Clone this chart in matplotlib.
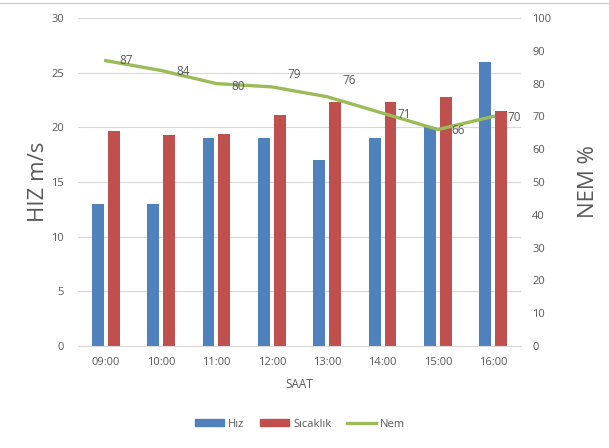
import matplotlib
matplotlib.use("Agg")
import matplotlib.pyplot as plt
import numpy as np
from matplotlib.lines import Line2D

hours = ["09:00", "10:00", "11:00", "12:00", "13:00", "14:00", "15:00", "16:00"]
hiz = [13, 13, 19, 19, 17, 19, 20, 26]
sicaklik = [19.7, 19.3, 19.4, 21.1, 22.3, 22.3, 22.8, 21.5]
nem = [87, 84, 80, 79, 76, 71, 66, 70]

blue = "#4f81bd"
red = "#c0504d"
green = "#9bbb59"
txt = "#595959"
grid = "#d9d9d9"

plt.rcParams['font.family'] = ['Open Sans', 'DejaVu Sans']

fig = plt.figure(figsize=(6.09, 4.48), dpi=100)
ax = fig.add_axes([78/609, 1-346/448, (521-78)/609, (346-18)/448])
ax2 = ax.twinx()

x = np.arange(len(hours))
w = 12/56
off = 8/56
ax.bar(x - off, hiz, width=w, color=blue, zorder=2, label="Hız")
ax.bar(x + off, sicaklik, width=w, color=red, zorder=2, label="Sıcaklık")
ax2.plot(x, nem, color=green, lw=2.4, zorder=3, label="Nem")

label_offsets = [(10, 0), (11, -1), (11, -2), (11, 9), (11, 12), (11, -1), (10, -1), (10, -1)]
for xi, v, (dx, dy) in zip(x, nem, label_offsets):
    ax2.annotate(str(v), (xi, v), xytext=(dx, dy), textcoords="offset points",
                 ha="left", va="center", fontsize=8.5, color=txt)

ax.set_xlim(-0.5, len(hours) - 0.5)
ax.set_ylim(0, 30)
ax.set_yticks(np.arange(0, 31, 5))
ax2.set_ylim(0, 100)
ax2.set_yticks(np.arange(0, 101, 10))
ax.set_xticks(x)
ax.set_xticklabels(hours)

ax.yaxis.grid(True, color=grid, lw=0.8, zorder=0)
ax.set_axisbelow(True)
for a in (ax, ax2):
    for s in a.spines.values():
        s.set_visible(False)
    a.tick_params(length=0, labelsize=8, labelcolor=txt)
ax.spines['bottom'].set_visible(True)
ax.spines['bottom'].set_color(grid)
ax.tick_params(axis='y', pad=10)
ax.tick_params(axis='x', pad=8)
ax2.tick_params(axis='y', pad=8)

ax.set_ylabel("HIZ m/s", fontsize=16, color=txt, labelpad=2)
ax2.set_ylabel("NEM %", fontsize=16, color=txt, labelpad=19)
ax.set_xlabel("SAAT", fontsize=8.5, color=txt, labelpad=7)

handles = [plt.Rectangle((0, 0), 1, 1, color=blue),
           plt.Rectangle((0, 0), 1, 1, color=red),
           Line2D([0], [0], color=green, lw=2.4)]
fig.legend(handles, ["Hız", "Sıcaklık", "Nem"], loc="center", bbox_to_anchor=(300/609, 1-424/448),
           ncol=3, frameon=False, fontsize=8, labelcolor=txt, handlelength=2.6, handleheight=0.6,
           columnspacing=1.4, handletextpad=0.4)

fig.add_artist(Line2D([0, 1], [1-3/448, 1-3/448], color="#d0d0d0", lw=1, transform=fig.transFigure))

fig.savefig("out.png", dpi=100)
